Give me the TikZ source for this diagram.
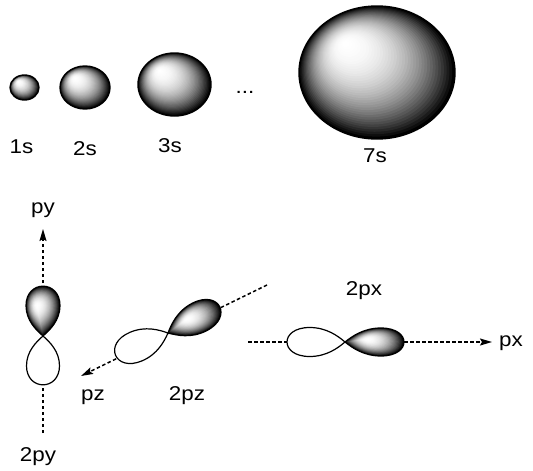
\documentclass[tikz,border=0pt]{standalone}
\usepackage{fontspec}
\setmainfont{Liberation Sans}
\usetikzlibrary{arrows.meta}

% outline of one lobe in local units: tip at the origin, far end at x=1, width 1
\def\lobeshape{(0,0) .. controls (0.12,0.2) and (0.32,0.5) .. (0.62,0.5)
  .. controls (1.15,0.5) and (1.15,-0.5) .. (0.62,-0.5)
  .. controls (0.32,-0.5) and (0.12,-0.2) .. (0,0) -- cycle}

% sphere: centre (#1,#2), radii #3, #4; stepped gradient towards an upper-left highlight
\newcommand\sphere[4]{%
  \foreach \i in {0,...,39}{%
    \pgfmathsetmacro\t{\i/40}%
    \pgfmathsetmacro\s{1-\t}%
    \pgfmathsetmacro\g{100*(\s)^2.2}%
    \fill[black!\g] ({#1-0.42*#3*\t},{#2-0.45*#4*\t})
      ellipse [x radius={#3*\s}, y radius={#4*\s}];}%
  \draw[rim] (#1,#2) ellipse [x radius=#3, y radius=#4];}

% white lobe: tip at (#1,#2), angle #3, length #4, width #5
\newcommand\whitelobe[5]{%
  \draw[lobeline, fill=white, shift={(#1,#2)}, rotate=#3, xscale=#4, yscale=#5]
    \lobeshape;}

% shaded lobe: as above, highlight at local point (#6,#7)
\newcommand\darklobe[7]{%
  \foreach \i in {0,...,29}{%
    \pgfmathsetmacro\s{1-\i/30}%
    \pgfmathsetmacro\g{100*(\s)^2.2}%
    \fill[black!\g, shift={(#1,#2)}, rotate=#3, xscale=#4, yscale=#5,
          shift={(#6,#7)}, scale=\s, shift={(-#6,-#7)}] \lobeshape;}%
  \draw[lobeline, shift={(#1,#2)}, rotate=#3, xscale=#4, yscale=#5] \lobeshape;}

\tikzset{
  rim/.style={draw=black, line width=1.4pt},
  lobeline/.style={draw=black, line width=1.2pt},
  axisline/.style={line width=1.5pt, dash pattern=on 3.5pt off 2.5pt},
  axisarrow/.style={axisline, -{Stealth[length=12pt,width=7pt,inset=2pt]}},
  lbl/.style={font=\fontsize{20}{20}\selectfont, anchor=base, inner sep=0pt,
              xscale=1.12, transform shape},
}

\begin{document}
\begin{tikzpicture}[x=1pt, y=-1pt]
\useasboundingbox (0,0) rectangle (533,471);

% s orbitals
\sphere{24.5}{87.5}{14.5}{12.5}
\sphere{85}{87.5}{25}{21.5}
\sphere{174.5}{84.5}{36.5}{31.5}
\sphere{377}{72.5}{78}{66.5}

\node[lbl] (s1) at (21.5,153) {1s};
\node[lbl] (s2) at (85,155) {2s};
\node[lbl] (s3) at (170,152) {3s};
\node[lbl] (dots) at (245,93) {...};
\node[lbl] (s7) at (375,162) {7s};

% axes
\coordinate (pyS) at (43,433);
\coordinate (pyN) at (43,229);
\coordinate (pzB) at (267,285);
\coordinate (pzF) at (81,376);
\coordinate (pxW) at (248,342);
\coordinate (pxE) at (492,342);
\draw[axisarrow] (pyS) -- (pyN);
\draw[axisarrow] (pzB) -- (pzF);
\draw[axisarrow] (pxW) -- (pxE);

% 2py
\darklobe{43}{336}{90}{49}{34}{0.62}{-0.18}
\whitelobe{43}{336}{-90}{48}{33}
% 2pz
\darklobe{168}{333}{27}{57}{31}{0.4}{-0.12}
\whitelobe{168}{333}{203}{56}{31}
% 2px
\whitelobe{345}{342}{180}{57}{29}
\darklobe{345}{342}{0}{58}{28}{0.38}{-0.1}

\node[lbl] (py) at (43,213) {py};
\node[lbl] (py2) at (38,461) {2py};
\node[lbl] (pz) at (93,400) {pz};
\node[lbl] (pz2) at (187,400) {2pz};
\node[lbl] (px2) at (364,295) {2px};
\node[lbl] (px) at (511,346) {px};
\end{tikzpicture}
\end{document}
